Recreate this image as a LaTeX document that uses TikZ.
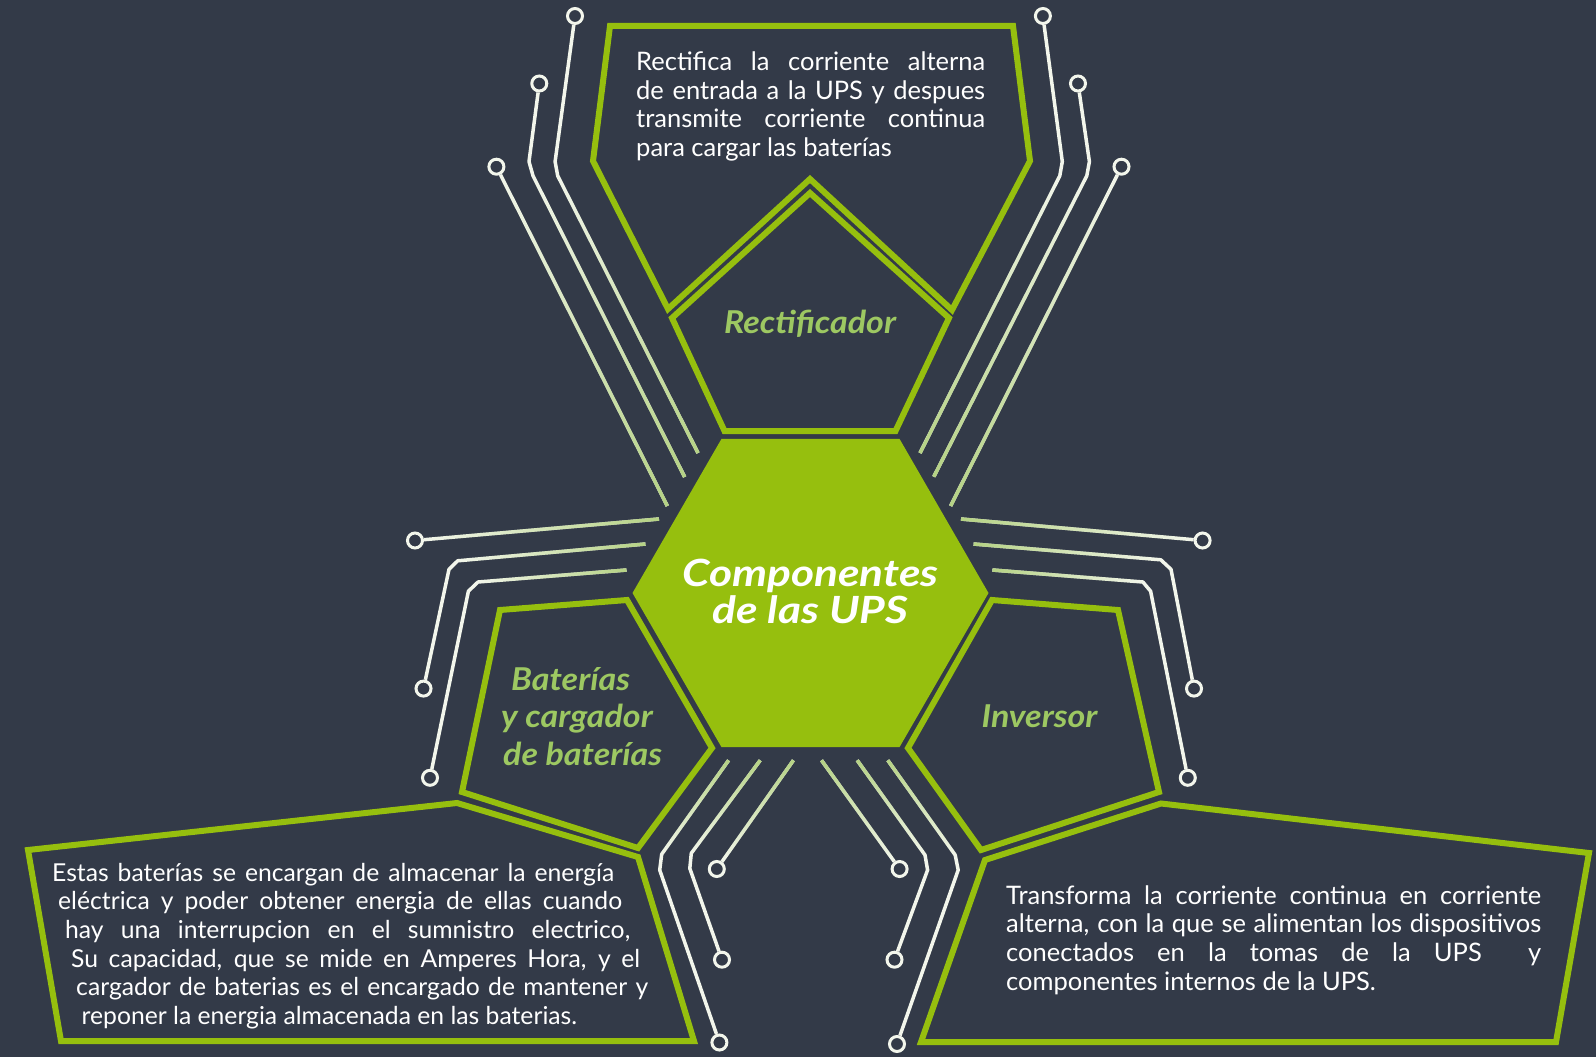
\documentclass[tikz,border=0pt]{standalone}
\usepackage{fontspec}
\setmainfont{Lato}
\newfontfamily\titlefont{Lato}[FakeStretch=1.18]
\newfontfamily\namefont{Lato}[FakeStretch=1.08]
\usepackage{tikz}
\usetikzlibrary{shapes.geometric, fadings}
\definecolor{slate}{HTML}{333A48}
\definecolor{upsgreen}{HTML}{96BF0E}
\definecolor{labelgreen}{HTML}{9DC862}
\definecolor{wirewhite}{HTML}{F3F6EC}
\definecolor{wireglow}{HTML}{B5D284}
\tikzfading[name=fadeup, top color=transparent!100, bottom color=transparent!0]
\tikzfading[name=fadedown, top color=transparent!0, bottom color=transparent!100]
\tikzfading[name=fadeleft, left color=transparent!100, right color=transparent!0]
\tikzfading[name=faderight, left color=transparent!0, right color=transparent!100]
\tikzstyle{outline} = [draw=upsgreen, line width=6pt, line join=miter]
\tikzstyle{hexagon} = [regular polygon, regular polygon sides=6, minimum size=356pt, inner sep=0pt, fill=upsgreen]
\tikzstyle{title} = [inner sep=0pt, text=white, align=center, font=\titlefont\fontsize{37.5}{37}\selectfont\bfseries\itshape]
\tikzstyle{partname} = [inner sep=0pt, text=labelgreen, font=\namefont\fontsize{31.5}{37.5}\selectfont\bfseries\itshape]
\tikzstyle{bodytext} = [inner sep=0pt, text=white, align=justify, font=\fontsize{25.5}{28.7}\selectfont]
\tikzstyle{wire} = [draw=wirewhite, line width=3.5pt, line join=round]
\tikzstyle{glow} = [draw=wireglow, line width=3.5pt]
\tikzstyle{contact} = [circle, draw=wirewhite, line width=3pt, fill=slate, minimum size=15pt, inner sep=0pt]

\begin{document}
\begin{tikzpicture}[x=1pt, y=-1pt]
\fill [slate] (0,0) rectangle (1596,1057);
\useasboundingbox (0,0) rectangle (1596,1057);

\draw [outline] (610,26) -- (1013,26) -- (1030,161) -- (952,310) -- (810,179) -- (668,309) -- (593,161) -- cycle;
\draw [outline] (810,193) -- (949,318) -- (895.5,431) -- (724.5,431) -- (672,318) -- cycle;
\draw [outline] (500,610) -- (627,600) -- (712,748) -- (638,848) -- (462,792) -- cycle;
\draw [outline] (992,600) -- (1118,610) -- (1159,792) -- (981,850) -- (908,748) -- cycle;
\draw [outline] (28,850) -- (457,803) -- (638,857) -- (694,1041) -- (61,1041) -- cycle;
\draw [outline] (1161,803.5) -- (1589,853) -- (1556,1042) -- (921,1042) -- (985,860) -- cycle;

\node (hub) [hexagon] at (810.5,593) {};
\node (hubtitle) [title] at (810.5,591) {Componentes\\de las UPS};

\node (rect) [partname, anchor=base] at (810,333) {Rectificador};
\node (batt) [partname, anchor=base west, align=left] at (501,765) {\hspace*{10pt}Baterías\\y cargador\\\hspace*{2pt}de baterías};
\node (inv) [partname, anchor=base] at (1039.5,727) {Inversor};

\node (recttxt) [bodytext, text width=349pt, anchor=base west] at (636,70.5) {\noindent Rectifica la corriente alterna\linebreak de entrada a la UPS y despues\linebreak transmite corriente continua\linebreak para cargar las baterías};
\node (batttxt) [bodytext, font=\fontsize{24.7}{28.7}\selectfont, text width=605pt, anchor=base west] at (52,881) {\parshape 6 0pt 562pt 6pt 564pt 13pt 565pt 19pt 569pt 24pt 572pt 29.5pt 572pt \noindent Estas baterías se encargan de almacenar la energía\linebreak eléctrica y poder obtener energia de ellas cuando\linebreak hay una interrupcion en el sumnistro electrico,\linebreak Su capacidad, que se mide en Amperes Hora, y el\linebreak cargador de baterias es el encargado de mantener y\linebreak reponer la energia almacenada en las baterias.\par};
\node (invtxt) [bodytext, text width=535pt, anchor=base west] at (1006,904) {\noindent Transforma la corriente continua en corriente\linebreak alterna, con la que se alimentan los dispositivos\linebreak conectados en la tomas de la UPS\ \ y\linebreak componentes internos de la UPS.};

\node (tl1end) [contact] at (575,16) {};
\node (tl2end) [contact] at (539.3,83.5) {};
\node (tl3end) [contact] at (496.4,166.7) {};
\node (tr1end) [contact] at (1042.9,16) {};
\node (tr2end) [contact] at (1078,83.5) {};
\node (tr3end) [contact] at (1121.5,166.7) {};
\node (ml1end) [contact] at (415,540.5) {};
\node (ml2end) [contact] at (423.5,688.6) {};
\node (ml3end) [contact] at (430,777.8) {};
\node (mr1end) [contact] at (1202.6,540.5) {};
\node (mr2end) [contact] at (1194,688.6) {};
\node (mr3end) [contact] at (1187.8,777.8) {};
\node (bl1end) [contact] at (716.8,869) {};
\node (bl2end) [contact] at (722,959.7) {};
\node (bl3end) [contact] at (719.4,1042.5) {};
\node (br1end) [contact] at (899.6,869) {};
\node (br2end) [contact] at (894.5,959.7) {};
\node (br3end) [contact] at (897,1044) {};

\coordinate (tl1) at (698,453);
\coordinate (tl2) at (684.7,477);
\coordinate (tl3) at (667.3,506);
\coordinate (tr1) at (920,453);
\coordinate (tr2) at (933.8,476.7);
\coordinate (tr3) at (950.6,506);
\coordinate (ml1) at (659,519);
\coordinate (ml2) at (645.4,544);
\coordinate (ml3) at (626.5,570);
\coordinate (mr1) at (961,519);
\coordinate (mr2) at (973.6,544);
\coordinate (mr3) at (992.4,570);
\coordinate (bl1) at (793.4,760.3);
\coordinate (bl2) at (760.2,760.3);
\coordinate (bl3) at (728.6,760.3);
\coordinate (br1) at (821.5,760.3);
\coordinate (br2) at (857.2,760.3);
\coordinate (br3) at (887.8,760.3);

\draw [wire] (tl1) -- (557.7,175.8) -- (555.1,161.6) -- (tl1end);
\draw [wire] (tl2) -- (533,175.8) -- (529,161.6) -- (tl2end);
\draw [wire] (tl3) -- (tl3end);
\draw [wire] (tr1) -- (1059.8,175.8) -- (1062.3,161.6) -- (tr1end);
\draw [wire] (tr2) -- (1086.8,175.8) -- (1089.4,161.6) -- (tr2end);
\draw [wire] (tr3) -- (tr3end);
\draw [wire] (ml1) -- (ml1end);
\draw [wire] (ml2) -- (457.7,560.8) -- (449,569.3) -- (ml2end);
\draw [wire] (ml3) -- (478,582) -- (468.4,591.2) -- (ml3end);
\draw [wire] (mr1) -- (mr1end);
\draw [wire] (mr2) -- (1160.8,559.8) -- (1171,569.3) -- (mr2end);
\draw [wire] (mr3) -- (1142.9,582) -- (1150.6,591.2) -- (mr3end);
\draw [wire] (bl1) -- (bl1end);
\draw [wire] (bl2) -- (691.3,853.2) -- (689.8,868.4) -- (bl2end);
\draw [wire] (bl3) -- (661.7,854.2) -- (659.7,870) -- (bl3end);
\draw [wire] (br1) -- (br1end);
\draw [wire] (br2) -- (925,855) -- (927.6,870) -- (br2end);
\draw [wire] (br3) -- (955.2,855) -- (958.2,870) -- (br3end);

\draw [glow, path fading=fadeup] (tl1) -- (557.7,175.8);
\draw [glow, path fading=fadeup] (tl2) -- (533,175.8);
\draw [glow, path fading=fadeup] (tl3) -- (tl3end);
\draw [glow, path fading=fadeup] (tr1) -- (1059.8,175.8);
\draw [glow, path fading=fadeup] (tr2) -- (1086.8,175.8);
\draw [glow, path fading=fadeup] (tr3) -- (tr3end);
\draw [glow, path fading=fadeleft] (ml1) -- (ml1end);
\draw [glow, path fading=fadeleft] (ml2) -- (457.7,560.8);
\draw [glow, path fading=fadeleft] (ml3) -- (478,582);
\draw [glow, path fading=faderight] (mr1) -- (mr1end);
\draw [glow, path fading=faderight] (mr2) -- (1160.8,559.8);
\draw [glow, path fading=faderight] (mr3) -- (1142.9,582);
\draw [glow, path fading=fadedown] (bl1) -- (bl1end);
\draw [glow, path fading=fadedown] (bl2) -- (691.3,853.2);
\draw [glow, path fading=fadedown] (bl3) -- (661.7,854.2);
\draw [glow, path fading=fadedown] (br1) -- (br1end);
\draw [glow, path fading=fadedown] (br2) -- (925,855);
\draw [glow, path fading=fadedown] (br3) -- (955.2,855);
\end{tikzpicture}
\end{document}
